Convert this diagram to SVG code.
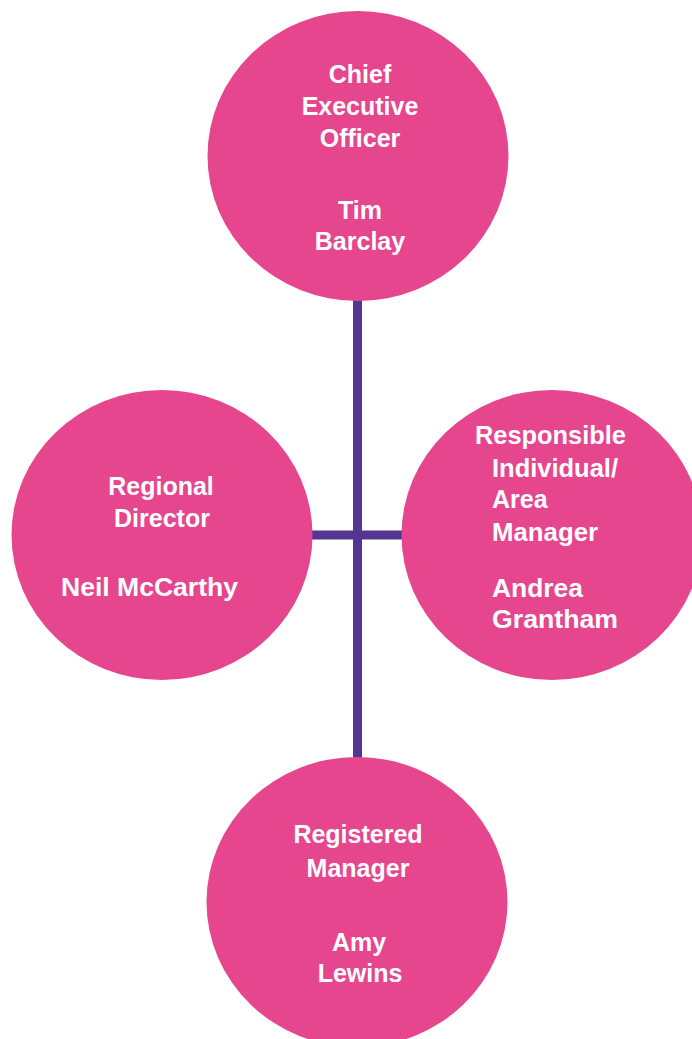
<svg xmlns="http://www.w3.org/2000/svg" width="692" height="1039" viewBox="0 0 692 1039">
<style>
.node{fill:#E5468E}
.lbl{font-family:"Liberation Sans",Arial,sans-serif;font-weight:bold;font-size:25px;fill:#FFFFFF}
.c{text-anchor:middle}
.conn{stroke:#553592;stroke-width:9;fill:none}
</style>
<rect width="692" height="1039" fill="#FFFFFF"/>
<g id="connectors">
<line class="conn" x1="357.5" y1="295" x2="357.5" y2="762"/>
<line class="conn" x1="305" y1="535" x2="408" y2="535"/>
</g>
<g id="ceo">
<ellipse class="node" cx="358" cy="156" rx="150.5" ry="145"/>
<text class="lbl c" x="360" y="83">Chief</text>
<text class="lbl c" x="360" y="115">Executive</text>
<text class="lbl c" x="360" y="147">Officer</text>
<text class="lbl c" x="360" y="219">Tim</text>
<text class="lbl c" x="360" y="250">Barclay</text>
</g>
<g id="regional-director">
<ellipse class="node" cx="162" cy="535" rx="150.5" ry="145"/>
<text class="lbl c" x="161" y="495">Regional</text>
<text class="lbl c" x="162" y="527">Director</text>
<text class="lbl" x="61" y="596" textLength="177" lengthAdjust="spacingAndGlyphs">Neil McCarthy</text>
</g>
<g id="responsible-individual">
<ellipse class="node" cx="552" cy="535" rx="150.5" ry="145"/>
<text class="lbl" x="475" y="444" textLength="151" lengthAdjust="spacingAndGlyphs">Responsible</text>
<text class="lbl" x="492" y="477" textLength="126" lengthAdjust="spacingAndGlyphs">Individual/</text>
<text class="lbl" x="492" y="508">Area</text>
<text class="lbl" x="492" y="541" textLength="106" lengthAdjust="spacingAndGlyphs">Manager</text>
<text class="lbl" x="492" y="597" textLength="91" lengthAdjust="spacingAndGlyphs">Andrea</text>
<text class="lbl" x="492" y="628" textLength="126" lengthAdjust="spacingAndGlyphs">Grantham</text>
</g>
<g id="registered-manager">
<ellipse class="node" cx="357" cy="902" rx="150.5" ry="145"/>
<text class="lbl c" x="358" y="843">Registered</text>
<text class="lbl c" x="358" y="877">Manager</text>
<text class="lbl c" x="359" y="951">Amy</text>
<text class="lbl c" x="360" y="982">Lewins</text>
</g>
</svg>
